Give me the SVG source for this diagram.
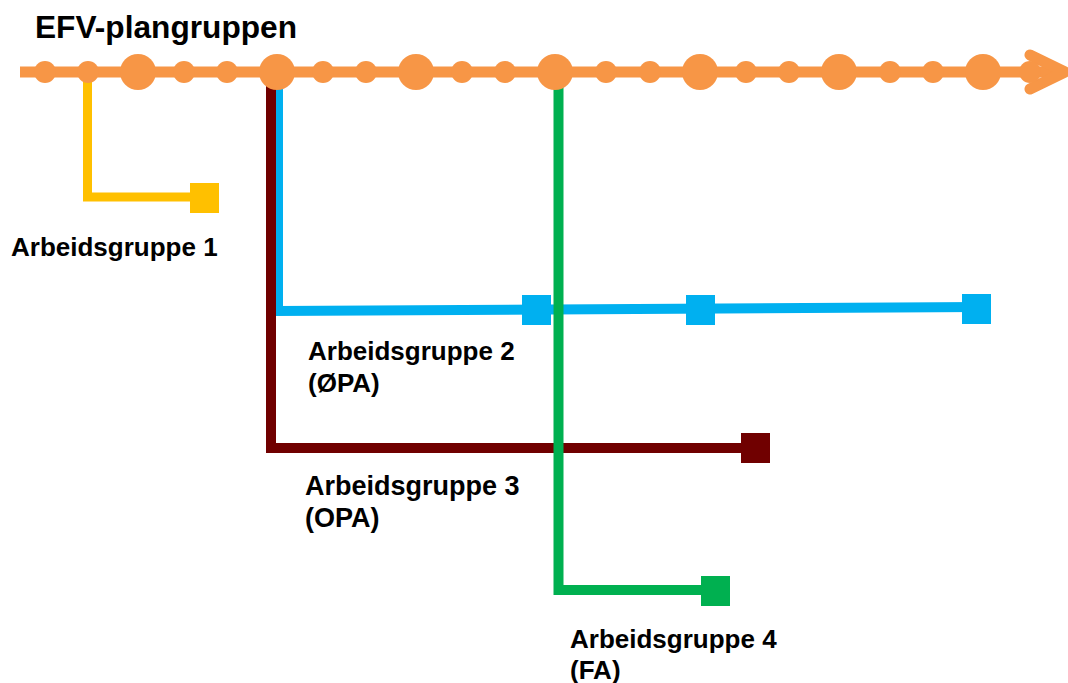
<svg xmlns="http://www.w3.org/2000/svg" width="1068" height="683" viewBox="0 0 1068 683">
<style>
text{font-family:"Liberation Sans",Arial,sans-serif;font-weight:bold;fill:#000}
.lbl{font-size:26px}
.tl{fill:#F79646}
.c{fill:none;stroke-linejoin:miter;stroke-linecap:butt}
.y{stroke:#FFC000;stroke-width:9}
.b{stroke:#00B0F0;stroke-width:10}
.r{stroke:#700000;stroke-width:10}
.g{stroke:#00B050;stroke-width:10}
</style>
<rect width="1068" height="683" fill="#fff"/>
<g id="connectors">
<path class="c y" d="M87.5,78 V197 H200"/>
<path class="c b" d="M278,72 V311 L980,307"/>
<path class="c r" d="M271,72 V448 H750"/>
<path class="c g" d="M558.5,72 V590 H715"/>
</g>
<g id="timeline">
<text x="35" y="38" style="font-size:31px" textLength="262" lengthAdjust="spacingAndGlyphs">EFV-plangruppen</text>
<line x1="20" y1="72" x2="1058" y2="72" stroke="#F79646" stroke-width="11"/>
<polyline points="1030,55 1065,72 1030,89" fill="none" stroke="#F79646" stroke-width="11" stroke-linecap="round" stroke-linejoin="round"/>
<g class="tl">
<circle cx="45" cy="72" r="11"/><circle cx="88" cy="72" r="11"/><circle cx="138" cy="72" r="18"/>
<circle cx="184" cy="72" r="11"/><circle cx="227" cy="72" r="11"/><circle cx="277" cy="72" r="18"/>
<circle cx="323" cy="72" r="11"/><circle cx="366" cy="72" r="11"/><circle cx="416" cy="72" r="18"/>
<circle cx="462" cy="72" r="11"/><circle cx="505" cy="72" r="11"/><circle cx="555" cy="72" r="18"/>
<circle cx="606" cy="72" r="11"/><circle cx="650" cy="72" r="11"/><circle cx="700" cy="72" r="18"/>
<circle cx="746" cy="72" r="11"/><circle cx="789" cy="72" r="11"/><circle cx="839" cy="72" r="18"/>
<circle cx="890" cy="72" r="11"/><circle cx="933" cy="72" r="11"/><circle cx="983" cy="72" r="18"/>
<circle cx="1030" cy="72" r="11"/>
</g>
</g>
<g id="ag1">
<rect x="190" y="183" width="29" height="30" fill="#FFC000"/>
<text class="lbl" x="11" y="256">Arbeidsgruppe 1</text>
</g>
<g id="ag2">
<rect x="522" y="295" width="29" height="30" fill="#00B0F0"/>
<rect x="686" y="295" width="29" height="30" fill="#00B0F0"/>
<rect x="962" y="294" width="29" height="30" fill="#00B0F0"/>
<text class="lbl" x="308" y="360">Arbeidsgruppe 2</text>
<text class="lbl" x="308" y="392">(ØPA)</text>
</g>
<g id="ag3">
<rect x="741" y="433" width="29" height="30" fill="#700000"/>
<text class="lbl" x="305" y="495" style="font-size:27px">Arbeidsgruppe 3</text>
<text class="lbl" x="305" y="527" style="font-size:27px">(OPA)</text>
</g>
<g id="ag4">
<rect x="701" y="576" width="29" height="30" fill="#00B050"/>
<text class="lbl" x="570" y="648">Arbeidsgruppe 4</text>
<text class="lbl" x="570" y="679">(FA)</text>
</g>
</svg>
